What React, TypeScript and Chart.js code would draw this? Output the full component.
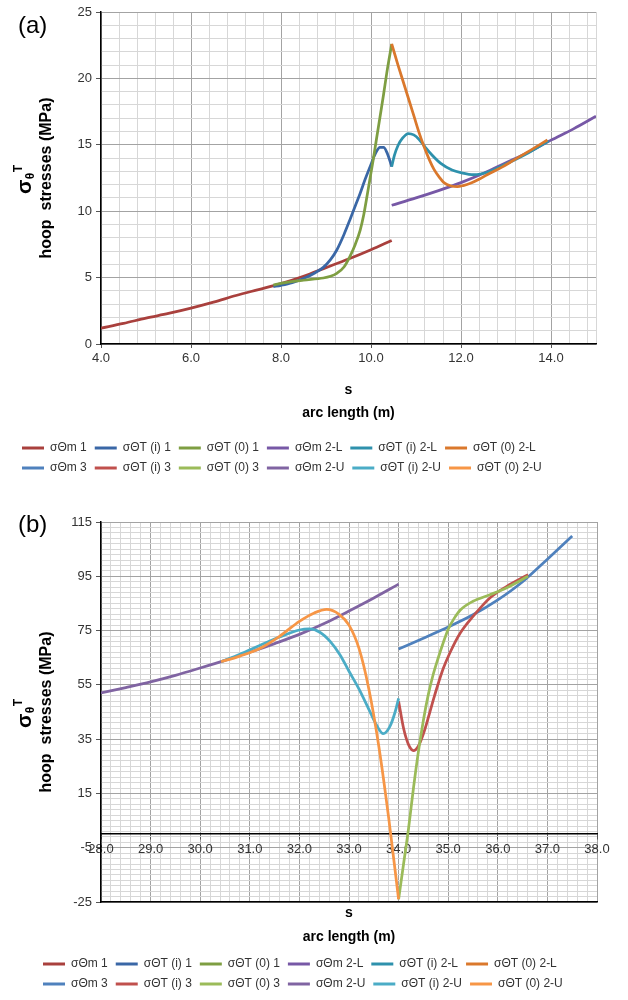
import React, { useEffect, useRef } from 'react';
import { Chart, registerables } from 'chart.js';

Chart.register(...registerables);

const FONT = "'Liberation Sans', Arial, sans-serif";

// ---------- legend labels & colours ----------
const LABELS = [
  'σΘm 1', 'σΘT (i) 1', 'σΘT (0) 1', 'σΘm 2-L', 'σΘT (i) 2-L', 'σΘT (0) 2-L',
  'σΘm 3', 'σΘT (i) 3', 'σΘT (0) 3', 'σΘm 2-U', 'σΘT (i) 2-U', 'σΘT (0) 2-U',
];
const COLORS = [
  '#A9403D', '#3A67A6', '#7E9E42', '#7758A6', '#2E91AC', '#DA782C',
  '#4F81BD', '#C0504D', '#9BBB59', '#8064A2', '#4BACC6', '#F79646',
];

// ---------- chart (a) data ----------
const A_M1_S = [4.0, 4.5, 5.0, 5.5, 6.0, 6.5, 7.0, 7.5, 8.0, 8.5, 9.0, 9.5, 10.0, 10.46];
const A_M1_V = [1.2, 1.55, 1.95, 2.3, 2.7, 3.15, 3.65, 4.1, 4.55, 5.1, 5.75, 6.4, 7.1, 7.8];

const A_TI1_S = [7.83, 8.0, 8.25, 8.5, 8.75, 8.94, 9.1, 9.24, 9.4, 9.53, 9.65, 9.76, 9.87, 9.98, 10.1, 10.2, 10.28, 10.35, 10.42, 10.46];
const A_TI1_V = [4.32, 4.42, 4.62, 4.93, 5.35, 5.77, 6.35, 7.08, 8.25, 9.34, 10.4, 11.35, 12.4, 13.35, 14.35, 14.8, 14.8, 14.45, 13.8, 13.35];

const A_T01_S = [7.83, 8.1, 8.5, 8.94, 9.1, 9.24, 9.4, 9.53, 9.65, 9.76, 9.84, 9.9, 9.97, 10.05, 10.12, 10.2, 10.28, 10.35, 10.46];
const A_T01_V = [4.44, 4.62, 4.8, 4.97, 5.1, 5.32, 5.8, 6.58, 7.5, 8.58, 9.75, 10.9, 12.3, 13.9, 15.4, 17.1, 18.8, 20.4, 22.6];

const A_M2L_S = [10.46, 11.0, 11.5, 12.0, 12.5, 13.0, 13.5, 14.0, 14.5, 15.0];
const A_M2L_V = [10.45, 11.0, 11.55, 12.15, 12.85, 13.65, 14.45, 15.35, 16.2, 17.15];

const A_TI2L_S = [10.46, 10.52, 10.6, 10.7, 10.83, 10.95, 11.07, 11.2, 11.35, 11.55, 11.8, 12.0, 12.29, 12.6, 13.0, 13.5, 13.95];
const A_TI2L_V = [13.35, 14.2, 14.95, 15.5, 15.85, 15.75, 15.4, 14.85, 14.25, 13.6, 13.1, 12.9, 12.75, 12.95, 13.55, 14.4, 15.3];

const A_T02L_S = [10.46, 10.6, 10.73, 10.85, 10.96, 11.07, 11.18, 11.3, 11.4, 11.52, 11.62, 11.78, 11.92, 12.05, 12.21, 12.4, 12.58, 12.9, 13.18, 13.55, 13.92];
const A_T02L_V = [22.6, 21.0, 19.6, 18.3, 17.1, 15.9, 14.85, 13.85, 13.15, 12.55, 12.15, 11.9, 11.85, 11.93, 12.1, 12.4, 12.75, 13.3, 13.86, 14.6, 15.36];

// ---------- chart (b) data ----------
const B_M3_S = [34.0, 34.5, 35.0, 35.5, 36.0, 36.5, 37.0, 37.5];
const B_M3_V = [68.2, 72.2, 76.3, 80.8, 86.3, 93.0, 101.3, 109.8];

const B_TI3_S = [34.0, 34.1, 34.2, 34.3, 34.4, 34.5, 34.6, 34.7, 34.8, 34.9, 35.04, 35.24, 35.5, 35.84, 36.18, 36.61];
const B_TI3_V = [49.0, 39.0, 33.0, 30.8, 32.5, 37.0, 43.0, 49.5, 55.5, 61.0, 67.0, 74.0, 80.2, 87.0, 91.3, 95.6];

const B_T03_S = [34.0, 34.1, 34.2, 34.3, 34.4, 34.5, 34.6, 34.7, 34.8, 34.9, 35.0, 35.12, 35.24, 35.5, 35.84, 36.18, 36.61];
const B_T03_V = [-24.0, -11.0, 2.0, 17.0, 30.5, 42.0, 51.5, 59.0, 65.0, 70.5, 75.5, 79.5, 82.5, 85.8, 88.2, 90.8, 95.0];

const B_M2U_S = [28.0, 28.5, 29.0, 29.5, 30.0, 30.5, 31.0, 31.5, 32.0, 32.5, 33.0, 33.5, 34.0];
const B_M2U_V = [52.0, 54.0, 56.1, 58.5, 61.2, 64.0, 67.0, 70.2, 73.6, 77.6, 82.2, 87.0, 92.1];

const B_TI2U_S = [30.42, 30.8, 31.2, 31.6, 32.0, 32.2, 32.42, 32.62, 32.82, 33.0, 33.2, 33.4, 33.56, 33.69, 33.82, 33.93, 34.0];
const B_TI2U_V = [63.5, 66.3, 69.5, 72.6, 75.2, 75.6, 74.3, 71.0, 66.0, 60.0, 53.5, 46.0, 40.0, 37.0, 39.5, 45.0, 50.0];

const B_T02U_S = [30.42, 30.8, 31.2, 31.6, 32.0, 32.3, 32.55, 32.8, 33.0, 33.2, 33.4, 33.6, 33.8, 34.0];
const B_T02U_V = [63.5, 65.6, 68.4, 72.9, 78.4, 81.5, 82.8, 81.0, 77.0, 68.5, 53.5, 32.5, 6.0, -24.0];

// ---------- axes / ticks ----------
const A_X_MIN = 4, A_X_MAX = 15, A_X_STEP = 0.4, A_X_MAJOR = 2;
const A_Y_MIN = 0, A_Y_MAX = 25, A_Y_STEP = 1, A_Y_MAJOR = 5;
const B_X_MIN = 28, B_X_MAX = 38, B_X_STEP = 0.2, B_X_MAJOR = 1;
const B_Y_MIN = -25, B_Y_MAX = 115, B_Y_STEP = 2, B_Y_MAJOR = 20;

const MAJOR_GRID = '#a3a3a3';
const MINOR_GRID = '#d7d7d7';
const TEXT = '#333333';

function range(min: number, max: number, step: number): number[] {
  const out: number[] = [];
  for (let k = 0; min + k * step <= max + 1e-9; k++) out.push(Math.round((min + k * step) * 1000) / 1000);
  if (Math.abs(out[out.length - 1] - max) > 1e-9) out.push(max);
  return out;
}

const near = (a: number, b: number) => Math.abs(a - b) < 1e-6;
const majorFn = (origin: number, major: number, max: number) => (v: number) => {
  const r = (v - origin) / major;
  return near(r, Math.round(r)) || near(v, max);
};

const pts = (s: number[], v: number[]) => s.map((x, i) => ({ x, y: v[i] }));

function gridOpts(isMajor: (v: number) => boolean, tickLen: number) {
  return {
    display: true,
    drawOnChartArea: true,
    drawTicks: tickLen > 0,
    tickLength: tickLen,
    lineWidth: 1,
    color: (c: any) => (c.tick && isMajor(c.tick.value) ? MAJOR_GRID : MINOR_GRID),
    tickColor: (c: any) => (c.tick && isMajor(c.tick.value) ? '#555555' : 'rgba(0,0,0,0)'),
  };
}

function makeDatasets(series: { x: number; y: number }[][]) {
  return LABELS.map((label, i) => ({
    label,
    data: series[i],
    borderColor: COLORS[i],
    backgroundColor: COLORS[i],
    borderWidth: 2.75,
    pointRadius: 0,
    pointHoverRadius: 0,
    fill: false,
    cubicInterpolationMode: 'monotone' as const,
    order: LABELS.length - i,
    xAxisID: 'x',
    yAxisID: 'y',
  }));
}

function legendOpts() {
  return {
    display: true,
    position: 'bottom' as const,
    align: 'start' as const,
    onClick: () => {},
    labels: {
      boxWidth: 22,
      boxHeight: 3,
      padding: 8,
      color: TEXT,
      font: { family: FONT, size: 12 },
      sort: (a: any, b: any) => a.datasetIndex - b.datasetIndex,
      generateLabels: (chart: any) =>
        (Chart.defaults.plugins.legend.labels.generateLabels as any)(chart).map((l: any) => ({ ...l, lineWidth: 0 })),
    },
  };
}

const yTitlePlugin = {
  id: 'yTitle',
  afterDraw(chart: any) {
    const { ctx, chartArea } = chart;
    const cy = (chartArea.top + chartArea.bottom) / 2;
    ctx.save();
    ctx.fillStyle = '#000';
    ctx.textAlign = 'center';
    ctx.textBaseline = 'middle';
    ctx.translate(47, cy);
    ctx.rotate(-Math.PI / 2);
    ctx.font = `bold 16px ${FONT}`;
    ctx.fillText('hoop  stresses (MPa)', 0, 0);
    ctx.restore();

    ctx.save();
    ctx.fillStyle = '#000';
    ctx.textAlign = 'left';
    ctx.textBaseline = 'alphabetic';
    ctx.translate(25, cy);
    ctx.rotate(-Math.PI / 2);
    const fBig = `bold 21px ${FONT}`;
    const fSmall = `bold 12px ${FONT}`;
    ctx.font = fBig;
    const w1 = ctx.measureText('σ').width;
    ctx.font = fSmall;
    const w2 = ctx.measureText('θ').width;
    const w3 = ctx.measureText('T').width;
    let x = -(w1 + w2 + w3) / 2 - 2;
    ctx.font = fBig;
    ctx.fillText('σ', x, 6);
    x += w1 + 0.5;
    ctx.font = fSmall;
    ctx.fillText('θ', x, 9);
    x += w2 + 0.5;
    ctx.fillText('T', x, -3);
    ctx.restore();
  },
};

function configA(): any {
  const isMajX = majorFn(A_X_MIN, A_X_MAJOR, A_X_MAX);
  const isMajY = majorFn(A_Y_MIN, A_Y_MAJOR, A_Y_MAX);
  const xTicks = range(A_X_MIN, A_X_MAX, A_X_STEP);
  const yTicks = range(A_Y_MIN, A_Y_MAX, A_Y_STEP);
  const series = [
    pts(A_M1_S, A_M1_V), pts(A_TI1_S, A_TI1_V), pts(A_T01_S, A_T01_V),
    pts(A_M2L_S, A_M2L_V), pts(A_TI2L_S, A_TI2L_V), pts(A_T02L_S, A_T02L_V),
    [], [], [], [], [], [],
  ];
  return {
    type: 'line',
    data: { datasets: makeDatasets(series) },
    plugins: [yTitlePlugin],
    options: {
      responsive: false,
      animation: false,
      events: [],
      devicePixelRatio: 1,
      layout: { padding: { left: 14, right: 32, top: 12, bottom: 6 } },
      plugins: { legend: legendOpts(), tooltip: { enabled: false } },
      scales: {
        x: {
          type: 'linear',
          min: A_X_MIN,
          max: A_X_MAX,
          afterBuildTicks: (s: any) => { s.ticks = xTicks.map((value) => ({ value })); },
          afterFit: (s: any) => { s.height = 90; },
          ticks: {
            autoSkip: false,
            maxRotation: 0,
            minRotation: 0,
            padding: 3,
            color: TEXT,
            font: { family: FONT, size: 13 },
            callback: (v: number) => (isMajX(v) && !near(v, A_X_MAX) ? v.toFixed(1) : ''),
          },
          grid: gridOpts((v) => isMajX(v) && !near(v, A_X_MAX), 4),
          border: { display: true, color: '#000', width: 1.5 },
          title: {
            display: true,
            text: ['s', 'arc length (m)'],
            color: '#000',
            font: { family: FONT, size: 14, weight: 'bold', lineHeight: 1.6 },
            padding: { top: 0, bottom: 10 },
          },
        },
        y: {
          type: 'linear',
          min: A_Y_MIN,
          max: A_Y_MAX,
          afterBuildTicks: (s: any) => { s.ticks = yTicks.map((value) => ({ value })); },
          afterFit: (s: any) => { s.width = 87; },
          ticks: {
            autoSkip: false,
            padding: 4,
            color: TEXT,
            font: { family: FONT, size: 13 },
            callback: (v: number) => (isMajY(v) ? String(v) : ''),
          },
          grid: gridOpts(isMajY, 5),
          border: { display: true, color: '#000', width: 1.5 },
        },
      },
    },
  };
}

function configB(): any {
  const isMajX = majorFn(B_X_MIN, B_X_MAJOR, B_X_MAX);
  const isMajY = majorFn(B_Y_MIN, B_Y_MAJOR, B_Y_MAX);
  const xTicks = range(B_X_MIN, B_X_MAX, B_X_STEP);
  const x2Ticks = range(B_X_MIN, B_X_MAX, B_X_MAJOR);
  const yTicks = range(B_Y_MIN, B_Y_MAX, B_Y_STEP);
  const series = [
    [], [], [], [], [], [],
    pts(B_M3_S, B_M3_V), pts(B_TI3_S, B_TI3_V), pts(B_T03_S, B_T03_V),
    pts(B_M2U_S, B_M2U_V), pts(B_TI2U_S, B_TI2U_V), pts(B_T02U_S, B_T02U_V),
  ];
  return {
    type: 'line',
    data: { datasets: makeDatasets(series) },
    plugins: [yTitlePlugin],
    options: {
      responsive: false,
      animation: false,
      events: [],
      devicePixelRatio: 1,
      layout: { padding: { left: 35, right: 31, top: 32, bottom: 0 } },
      plugins: { legend: legendOpts(), tooltip: { enabled: false } },
      scales: {
        x: {
          type: 'linear',
          min: B_X_MIN,
          max: B_X_MAX,
          afterBuildTicks: (s: any) => { s.ticks = xTicks.map((value) => ({ value })); },
          afterFit: (s: any) => { s.height = 48; },
          ticks: { display: false, autoSkip: false },
          grid: gridOpts(isMajX, 0),
          border: { display: true, color: '#000', width: 1.5 },
          title: {
            display: true,
            text: ['s', 'arc length (m)'],
            color: '#000',
            font: { family: FONT, size: 14, weight: 'bold', lineHeight: 24 / 14 },
            padding: { top: 0, bottom: 1 },
          },
        },
        x2: {
          type: 'linear',
          axis: 'x',
          position: { y: 0 },
          min: B_X_MIN,
          max: B_X_MAX,
          afterBuildTicks: (s: any) => { s.ticks = x2Ticks.map((value) => ({ value })); },
          afterFit: (s: any) => { s.height = 0; },
          ticks: {
            autoSkip: false,
            maxRotation: 0,
            minRotation: 0,
            padding: 2,
            color: TEXT,
            font: { family: FONT, size: 13 },
            callback: (v: number) => v.toFixed(1),
          },
          grid: { display: true, drawOnChartArea: false, drawTicks: true, tickLength: 5, tickColor: '#555555' },
          border: { display: true, color: '#000', width: 1.5 },
        },
        y: {
          type: 'linear',
          min: B_Y_MIN,
          max: B_Y_MAX,
          afterBuildTicks: (s: any) => { s.ticks = yTicks.map((value) => ({ value })); },
          afterFit: (s: any) => { s.width = 66; },
          ticks: {
            autoSkip: false,
            padding: 4,
            color: TEXT,
            font: { family: FONT, size: 13 },
            callback: (v: number) => (isMajY(v) ? String(v) : ''),
          },
          grid: gridOpts(isMajY, 5),
          border: { display: true, color: '#000', width: 1.5 },
        },
      },
    },
  };
}

export default function App() {
  const refA = useRef<HTMLCanvasElement>(null);
  const refB = useRef<HTMLCanvasElement>(null);

  useEffect(() => {
    const a = new Chart(refA.current as HTMLCanvasElement, configA());
    const b = new Chart(refB.current as HTMLCanvasElement, configB());
    return () => {
      a.destroy();
      b.destroy();
    };
  }, []);

  const panelLabel: React.CSSProperties = {
    position: 'absolute',
    left: 18,
    fontFamily: FONT,
    fontSize: 24,
    lineHeight: '24px',
    color: '#000',
  };

  return (
    <div style={{ position: 'absolute', left: 0, top: 0, width: 628, height: 1000, overflow: 'hidden', background: '#fff' }}>
      <canvas ref={refA} width={628} height={490} style={{ position: 'absolute', left: 0, top: 0, width: 628, height: 490 }} />
      <canvas ref={refB} width={628} height={510} style={{ position: 'absolute', left: 0, top: 490, width: 628, height: 510 }} />
      <div style={{ ...panelLabel, top: 13 }}>(a)</div>
      <div style={{ ...panelLabel, top: 512 }}>(b)</div>
    </div>
  );
}
